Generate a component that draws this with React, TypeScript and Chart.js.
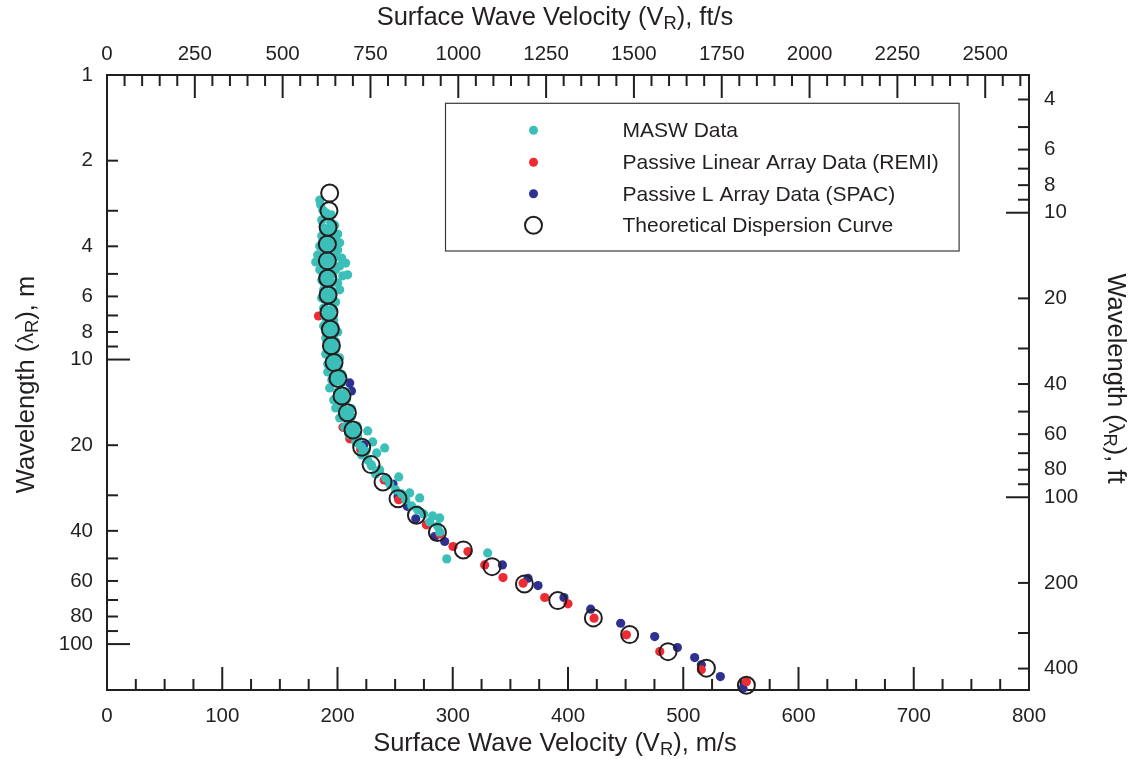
import React, { useEffect, useRef } from 'react';
import { Chart, registerables } from 'chart.js';

Chart.register(...registerables);

// ---------- units / ranges ----------
const M_TO_FT = 3.28084;
const X_MIN = 0;
const X_MAX = 800; // m/s
const Y_MIN = 1; // m
const Y_MAX = 145; // m

// ---------- tick values ----------
const bottomLabelValues = [0, 100, 200, 300, 400, 500, 600, 700, 800];
const bottomMinorStep = 25;
const topLabelValues = [0, 250, 500, 750, 1000, 1250, 1500, 1750, 2000, 2250, 2500];
const topMinorStep = 50;
const leftTickValues = [1, 2, 3, 4, 5, 6, 7, 8, 9, 10, 20, 30, 40, 50, 60, 70, 80, 90, 100];
const leftLabelValues = [1, 2, 4, 6, 8, 10, 20, 40, 60, 80, 100];
const leftMajorValues = [1, 10, 100];
const rightTickValues = [4, 5, 6, 7, 8, 9, 10, 20, 30, 40, 50, 60, 70, 80, 90, 100, 200, 300, 400];
const rightLabelValues = [4, 6, 8, 10, 20, 40, 60, 80, 100, 200, 400];
const rightMajorValues = [10, 100];

// ---------- data: theoretical dispersion curve ----------
const theoVelocity = [
  193.2, 192.6, 191.8, 191.2, 191.2, 191.5, 191.8, 192.6, 193.8, 194.7,
  197.0, 200.4, 203.9, 208.6, 213.4, 221.0, 229.1, 239.5, 252.5, 268.5,
  286.7, 309.2, 334.1, 362.2, 391.1, 422.0, 453.5, 486.8, 520.1, 554.8,
];
const theoWavelength = [
  2.60, 3.00, 3.43, 3.93, 4.50, 5.18, 5.93, 6.82, 7.83, 8.94,
  10.25, 11.65, 13.43, 15.37, 17.68, 20.33, 23.40, 26.92, 30.83, 35.25,
  40.51, 46.67, 53.43, 61.45, 70.33, 80.91, 92.60, 106.3, 121.5, 139.5,
];

// ---------- data: MASW (scatter around the curve) ----------
const maswVelocity = [
  184.6, 185.4, 187.2, 189.8, 193.2, 186.3, 194.1, 197.6, 188.0, 195.8,
  200.2, 186.3, 190.6, 198.4, 201.9, 184.6, 193.2, 200.2, 182.8, 188.9,
  197.6, 203.6, 181.1, 186.3, 195.0, 201.9, 207.1, 184.6, 191.5, 198.4,
  208.8, 204.5, 186.3, 193.2, 200.2, 188.0, 196.7, 201.9, 186.3, 193.2,
  198.4, 188.0, 195.0, 189.8, 196.7, 188.0, 195.0, 200.2, 189.8, 196.7,
  191.5, 198.4, 189.8, 196.7, 201.9, 191.5, 198.4, 191.5, 200.2, 195.0,
  203.6, 193.2, 200.2, 196.7, 203.6, 198.4, 205.4, 201.9, 208.8, 206.2,
  212.3, 210.6, 217.5, 215.8, 226.2, 230.5, 240.9, 234.0, 221.0, 226.2,
  229.7, 236.6, 233.1, 241.8, 253.1, 245.3, 250.5, 255.7, 262.6, 259.2,
  271.3, 264.4, 269.6, 274.8, 282.6, 288.7, 280.0, 286.9, 288.7, 294.8,
  330.3,
];
const maswWavelength = [
  2.75, 2.86, 2.98, 3.08, 3.13, 3.23, 3.29, 3.37, 3.45, 3.56,
  3.62, 3.68, 3.80, 3.80, 3.89, 3.99, 4.05, 4.12, 4.29, 4.33,
  4.36, 4.40, 4.54, 4.61, 4.65, 4.69, 4.58, 4.84, 4.92, 4.84,
  5.04, 5.08, 5.25, 5.38, 5.38, 5.69, 5.79, 5.69, 6.08, 6.17,
  6.28, 6.59, 6.69, 7.14, 7.26, 7.62, 7.87, 8.00, 8.40, 8.53,
  8.96, 9.10, 9.56, 9.71, 9.87, 10.36, 10.53, 11.06, 11.23, 11.80,
  11.99, 12.58, 13.00, 13.87, 14.09, 14.79, 15.04, 16.04, 16.30, 17.25,
  17.39, 18.41, 18.71, 19.48, 17.82, 19.48, 20.44, 21.29, 21.64, 22.53,
  23.65, 24.43, 25.23, 26.06, 25.85, 27.36, 28.72, 29.66, 29.42, 31.14,
  30.64, 32.69, 33.77, 34.87, 35.44, 36.02, 37.20, 38.43, 40.34, 50.18,
  47.82,
];

// ---------- data: MASW (dense core hidden under the curve markers) ----------
const maswCoreVelocity = [
  190.0, 194.5, 194.5, 192.0, 189.0,
  191.2, 187.7, 194.7, 194.7, 187.7,
  191.2, 187.7, 194.7, 194.7, 187.7,
  191.5, 188.0, 195.0, 195.0, 188.0,
  191.8, 188.3, 195.3, 195.3, 188.3,
  192.6, 189.1, 196.1, 196.1, 189.1,
  193.8, 190.3, 197.3, 197.3, 190.3,
  194.7, 191.2, 198.2, 198.2, 191.2,
  197.0, 193.5, 200.5, 200.5, 193.5,
  200.4, 196.9, 203.9, 203.9, 196.9,
  203.9, 200.4, 207.4, 207.4, 200.4,
  208.6, 205.1, 212.1, 212.1, 205.1,
  213.4, 209.9, 216.9, 216.9, 209.9,
  221.0, 217.5, 224.5, 229.1,
];
const maswCoreWavelength = [
  3.05, 3.10, 3.40, 3.52, 3.50,
  3.93, 3.81, 4.06, 3.80, 4.06,
  4.50, 4.36, 4.65, 4.36, 4.65,
  5.18, 5.02, 5.35, 5.02, 5.35,
  5.93, 5.74, 6.13, 5.74, 6.13,
  6.82, 6.60, 7.05, 6.60, 7.05,
  7.83, 7.58, 8.09, 7.58, 8.09,
  8.94, 8.65, 9.24, 8.65, 9.24,
  10.25, 9.92, 10.59, 9.92, 10.59,
  11.65, 11.28, 12.03, 11.28, 12.03,
  13.43, 13.00, 13.87, 13.00, 13.87,
  15.37, 14.88, 15.88, 14.88, 15.88,
  17.68, 17.12, 18.26, 17.12, 18.26,
  20.33, 19.70, 21.00, 23.40,
];

// ---------- data: passive linear array (REMI) ----------
const remiVelocity = [
  183.5, 204.8, 210.6, 220.1, 240.5, 253.1, 277.1, 288.7, 300.2, 313.2,
  327.7, 343.6, 361.0, 379.8, 400.0, 422.6, 450.7, 479.6, 515.7, 554.8,
];
const remiWavelength = [
  7.03, 17.3, 19.0, 20.7, 26.5, 31.1, 38.1, 41.0, 45.4, 47.3,
  52.7, 58.4, 61.1, 68.6, 72.2, 81.1, 92.8, 106.2, 123.2, 135.5,
];

// ---------- data: passive L array (SPAC) ----------
const spacVelocity = [
  210.6, 212.1, 222.7, 243.6, 248.2, 252.5, 260.5, 267.9, 284.3, 293.0,
  343.1, 365.3, 374.0, 396.5, 419.7, 445.7, 475.2, 494.9, 509.9, 515.7,
  532.2, 551.8,
];
const spacWavelength = [
  12.08, 12.89, 19.95, 26.7, 27.4, 30.3, 32.8, 36.3, 41.9, 43.6,
  52.7, 58.7, 62.3, 68.6, 75.4, 84.5, 94.1, 102.9, 111.5, 118.3,
  130.1, 142.9,
];

const seriesNames = [
  'MASW Data',
  'Passive Linear Array Data (REMI)',
  'Passive L Array Data (SPAC)',
  'Theoretical Dispersion Curve',
];

const INK = '#231f20';
const CYAN = '#3cbfb8';
const RED = '#ee2a33';
const BLUE = '#2e3192';
const FONT = '"Liberation Sans", Arial, Helvetica, sans-serif';
const TICK_FONT_SIZE = 20.5;
const TITLE_FONT_SIZE = 25.5;
const LEGEND_FONT_SIZE = 21;

function zip(xs: number[], ys: number[]) {
  return xs.map((x, i) => ({ x, y: ys[i] }));
}

function range(from: number, to: number, step: number) {
  const out: number[] = [];
  for (let v = from; v <= to + 1e-9; v += step) out.push(v);
  return out;
}

type Part = { t: string; s?: number; dy?: number };

function drawRich(ctx: CanvasRenderingContext2D, parts: Part[], size: number, cx: number, cy: number, rot: number) {
  ctx.save();
  ctx.translate(cx, cy);
  ctx.rotate(rot);
  ctx.fillStyle = INK;
  ctx.textBaseline = 'middle';
  ctx.textAlign = 'left';
  const widths = parts.map((p) => {
    ctx.font = `${size * (p.s ?? 1)}px ${FONT}`;
    return ctx.measureText(p.t).width;
  });
  const total = widths.reduce((a, b) => a + b, 0);
  let x = -total / 2;
  parts.forEach((p, i) => {
    ctx.font = `${size * (p.s ?? 1)}px ${FONT}`;
    ctx.fillText(p.t, x, (p.dy ?? 0) * size);
    x += widths[i];
  });
  ctx.restore();
}

const framePlugin = {
  id: 'frameAndTicks',
  beforeDatasetsDraw(chart: any) {
    const { ctx, chartArea: ca, scales } = chart;
    ctx.save();
    ctx.strokeStyle = INK;
    ctx.lineWidth = 2;
    ctx.lineCap = 'butt';
    const line = (x1: number, y1: number, x2: number, y2: number) => {
      ctx.beginPath();
      ctx.moveTo(x1, y1);
      ctx.lineTo(x2, y2);
      ctx.stroke();
    };
    range(X_MIN, X_MAX, bottomMinorStep).forEach((v) => {
      const px = scales.x.getPixelForValue(v);
      const len = bottomLabelValues.includes(v) ? 23 : 11;
      line(px, ca.bottom, px, ca.bottom - len);
    });
    range(0, X_MAX * M_TO_FT, topMinorStep).forEach((v) => {
      const px = scales.x2.getPixelForValue(v);
      const len = v % 250 === 0 ? 23 : 11;
      line(px, ca.top, px, ca.top + len);
    });
    leftTickValues.forEach((v) => {
      const py = scales.y.getPixelForValue(v);
      const len = leftMajorValues.includes(v) ? 23 : 11;
      line(ca.left, py, ca.left + len, py);
    });
    rightTickValues.forEach((v) => {
      const py = scales.y2.getPixelForValue(v);
      const len = rightMajorValues.includes(v) ? 23 : 11;
      line(ca.right, py, ca.right - len, py);
    });
    ctx.strokeRect(ca.left, ca.top, ca.right - ca.left, ca.bottom - ca.top);
    ctx.restore();
  },
  afterDraw(chart: any) {
    const { ctx, chartArea: ca, width, height } = chart;
    const cx = (ca.left + ca.right) / 2 - 13;
    const cy = (ca.top + ca.bottom) / 2;
    drawRich(ctx, [
      { t: 'Surface Wave Velocity (V' },
      { t: 'R', s: 0.72, dy: 0.25 },
      { t: '), ft/s' },
    ], TITLE_FONT_SIZE, cx, 18, 0);
    drawRich(ctx, [
      { t: 'Surface Wave Velocity (V' },
      { t: 'R', s: 0.72, dy: 0.25 },
      { t: '), m/s' },
    ], TITLE_FONT_SIZE, cx, height - 15, 0);
    drawRich(ctx, [
      { t: 'Wavelength (' },
      { t: 'λ', s: 0.85 },
      { t: 'R', s: 0.72, dy: 0.25 },
      { t: '), m' },
    ], TITLE_FONT_SIZE, 27, cy + 2, -Math.PI / 2);
    drawRich(ctx, [
      { t: 'Wavelength (' },
      { t: 'λ', s: 0.85 },
      { t: 'R', s: 0.72, dy: 0.25 },
      { t: '), ft' },
    ], TITLE_FONT_SIZE, width - 18, cy - 4, Math.PI / 2);

    // legend
    const lx = ca.left + 338.5;
    const ly = ca.top + 28.3;
    const lw = 513.6;
    const lh = 147.7;
    ctx.save();
    ctx.fillStyle = '#ffffff';
    ctx.fillRect(lx, ly, lw, lh);
    ctx.strokeStyle = '#3a3a3a';
    ctx.lineWidth = 1.2;
    ctx.strokeRect(lx, ly, lw, lh);
    const mx = lx + 88;
    const tx = lx + 177;
    const rows = [ly + 27, ly + 59, ly + 90.5, ly + 122];
    const colors = [CYAN, RED, BLUE];
    rows.forEach((ry, i) => {
      ctx.beginPath();
      if (i < 3) {
        ctx.fillStyle = colors[i];
        ctx.arc(mx, ry, 4.5, 0, Math.PI * 2);
        ctx.fill();
      } else {
        ctx.strokeStyle = INK;
        ctx.lineWidth = 2;
        ctx.arc(mx, ry, 8.5, 0, Math.PI * 2);
        ctx.stroke();
      }
      ctx.fillStyle = INK;
      ctx.font = `${LEGEND_FONT_SIZE}px ${FONT}`;
      ctx.textAlign = 'left';
      ctx.textBaseline = 'middle';
      ctx.fillText(seriesNames[i], tx, ry + 1);
    });
    ctx.restore();
  },
};

const dotStyle = (color: string) => ({
  pointRadius: 4.6,
  pointBorderWidth: 0,
  pointBackgroundColor: color,
  xAxisID: 'x',
  yAxisID: 'y',
  clip: false,
});

export default function App() {
  const canvasRef = useRef<HTMLCanvasElement | null>(null);

  useEffect(() => {
    const canvas = canvasRef.current;
    if (!canvas) return;
    const tickFont = { family: FONT, size: TICK_FONT_SIZE };
    const chart = new Chart(canvas, {
      type: 'scatter',
      data: {
        datasets: [
          {
            label: seriesNames[3],
            data: zip(theoVelocity, theoWavelength),
            pointRadius: 8.5,
            pointBorderWidth: 2,
            pointBorderColor: INK,
            pointBackgroundColor: 'rgba(0,0,0,0)',
            xAxisID: 'x',
            yAxisID: 'y',
            order: 0,
            clip: false,
          },
          { label: seriesNames[0], data: zip(maswVelocity, maswWavelength), ...dotStyle(CYAN), order: 1 },
          { label: seriesNames[0] + ' ', data: zip(maswCoreVelocity, maswCoreWavelength), ...dotStyle(CYAN), order: 1 },
          { label: seriesNames[1], data: zip(remiVelocity, remiWavelength), ...dotStyle(RED), order: 2 },
          { label: seriesNames[2], data: zip(spacVelocity, spacWavelength), ...dotStyle(BLUE), order: 3 },
        ],
      },
      options: {
        responsive: false,
        animation: false,
        events: [],
        layout: { padding: 0 },
        plugins: {
          legend: { display: false },
          tooltip: { enabled: false },
          title: { display: false },
        },
        scales: {
          x: {
            type: 'linear',
            position: 'bottom',
            min: X_MIN,
            max: X_MAX,
            afterBuildTicks: (s: any) => {
              s.ticks = bottomLabelValues.map((value) => ({ value }));
            },
            afterFit: (s: any) => {
              s.height = 69;
            },
            grid: { display: false, drawTicks: false },
            border: { display: false },
            ticks: { autoSkip: false, maxRotation: 0, padding: 14, color: INK, font: tickFont, callback: (v: any) => String(v) },
          },
          x2: {
            type: 'linear',
            position: 'top',
            min: 0,
            max: X_MAX * M_TO_FT,
            afterBuildTicks: (s: any) => {
              s.ticks = topLabelValues.map((value) => ({ value }));
            },
            afterFit: (s: any) => {
              s.height = 75;
            },
            grid: { display: false, drawTicks: false },
            border: { display: false },
            ticks: { autoSkip: false, maxRotation: 0, padding: 8, color: INK, font: tickFont, callback: (v: any) => String(v) },
          },
          y: {
            type: 'logarithmic',
            position: 'left',
            reverse: true,
            min: Y_MIN,
            max: Y_MAX,
            afterBuildTicks: (s: any) => {
              s.ticks = leftLabelValues.map((value) => ({ value }));
            },
            afterFit: (s: any) => {
              s.width = 107;
            },
            grid: { display: false, drawTicks: false },
            border: { display: false },
            ticks: { autoSkip: false, padding: 14, color: INK, font: tickFont, callback: (v: any) => String(v) },
          },
          y2: {
            type: 'logarithmic',
            position: 'right',
            reverse: true,
            min: Y_MIN * M_TO_FT,
            max: Y_MAX * M_TO_FT,
            afterBuildTicks: (s: any) => {
              s.ticks = rightLabelValues.map((value) => ({ value }));
            },
            afterFit: (s: any) => {
              s.width = 104;
            },
            grid: { display: false, drawTicks: false },
            border: { display: false },
            ticks: { autoSkip: false, padding: 15, color: INK, font: tickFont, callback: (v: any) => String(v) },
          },
        },
      },
      plugins: [framePlugin],
    } as any);
    return () => chart.destroy();
  }, []);

  return (
    <div style={{ position: 'fixed', left: 0, top: 0, width: 1133, height: 759, background: '#fff' }}>
      <canvas ref={canvasRef} width={1133} height={759} style={{ display: 'block' }} />
    </div>
  );
}
